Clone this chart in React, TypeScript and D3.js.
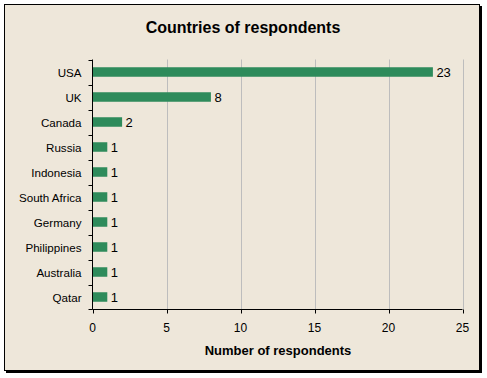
import React from "react";
import * as d3 from "d3";

const categories = ["USA", "UK", "Canada", "Russia", "Indonesia", "South Africa", "Germany", "Philippines", "Australia", "Qatar"];
const values = [23, 8, 2, 1, 1, 1, 1, 1, 1, 1];
const xTicks = [0, 5, 10, 15, 20, 25];
const title = "Countries of respondents";
const xTitle = "Number of respondents";

export default function App() {
  const W = 487, H = 378;
  const left = 92.5, right = 462.5, top = 59.5, bottom = 309.5;
  const x = d3.scaleLinear().domain([0, 25]).range([left, right]);
  const y = d3.scaleBand().domain(categories).range([top, bottom]).paddingInner(0.62).paddingOuter(0.31);
  const band = d3.scaleBand().domain(categories).range([top, bottom]);
  const font = "Tahoma, 'Liberation Sans', Arial, sans-serif";
  return (
    <svg width={W} height={H} style={{ position: "absolute", left: 0, top: 0, background: "#fff" }} fontFamily={font}>
      <rect x={6} y={6} width={476} height={367} fill="#000" />
      <rect x={4.5} y={4.5} width={475} height={366} fill="#EEE7DA" stroke="#000" />
      <text x={243} y={33} textAnchor="middle" fontSize={16} fontWeight="bold">{title}</text>
      {xTicks.slice(1).map(t => (
        <line key={"g" + t} x1={Math.round(x(t)) + 0.5} x2={Math.round(x(t)) + 0.5} y1={top} y2={bottom} stroke="#BDBDBD" />
      ))}
      {categories.map((c, i) => (
        <g key={c}>
          <rect x={x(0)} y={y(c)!} width={x(values[i]) - x(0)} height={y.bandwidth()} fill="#2E8B5B" />
          <text x={x(values[i]) + 3.5} y={y(c)! + y.bandwidth() / 2 + 5} fontSize={13}>{values[i]}</text>
          <text x={81.5} y={band(c)! + band.bandwidth() / 2 + 4.5} fontSize={11.6} textAnchor="end">{c}</text>
        </g>
      ))}
      {categories.map(c => (
        <line key={"t" + c} x1={left - 4} x2={left} y1={Math.round(band(c)!) + 0.5} y2={Math.round(band(c)!) + 0.5} stroke="#000" />
      ))}
      <line x1={left - 4} x2={left} y1={bottom} y2={bottom} stroke="#000" />
      <line x1={left} x2={left} y1={top} y2={bottom} stroke="#000" />
      <line x1={left} x2={right} y1={bottom} y2={bottom} stroke="#000" />
      {xTicks.map(t => (
        <g key={"x" + t}>
          <line x1={Math.round(x(t)) + 0.5} x2={Math.round(x(t)) + 0.5} y1={bottom} y2={bottom + 4} stroke="#000" />
          <text x={x(t)} y={332} textAnchor="middle" fontSize={12}>{t}</text>
        </g>
      ))}
      <text x={278} y={355} textAnchor="middle" fontSize={13} fontWeight="bold">{xTitle}</text>
    </svg>
  );
}
